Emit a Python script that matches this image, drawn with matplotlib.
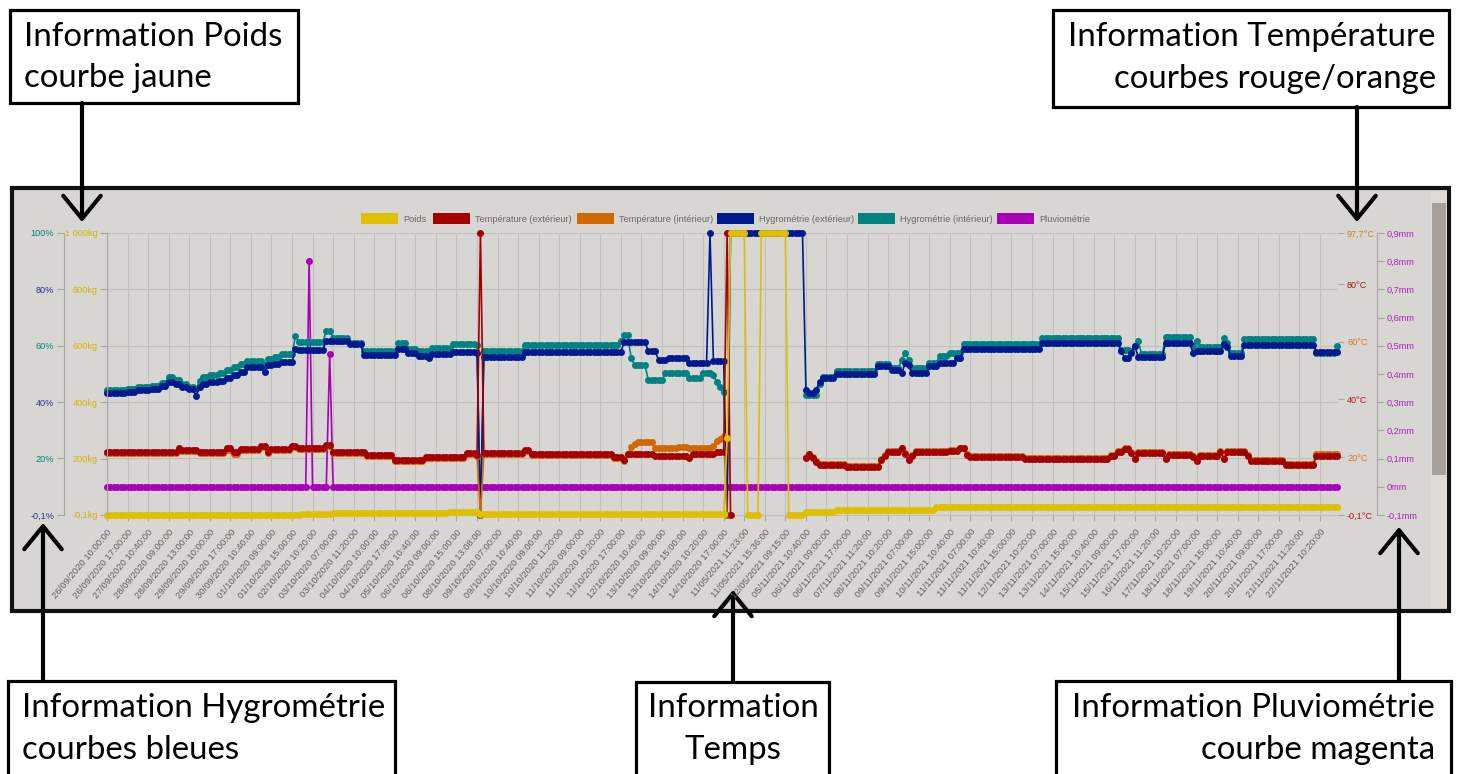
import numpy as np
import matplotlib
matplotlib.use('Agg')
import matplotlib.pyplot as plt
from matplotlib.patches import Rectangle

# ---- data (one value per sample, written as runs of (count, value)) ----
time_labels = [
    "26/09/2020 10:00:00", "26/09/2020 17:00:00", "27/09/2020 10:40:00", "28/09/2020 09:00:00",
    "28/09/2020 13:00:00", "29/09/2020 10:00:00", "29/09/2020 17:00:00", "30/09/2020 10:40:00",
    "01/10/2020 09:00:00", "01/10/2020 15:00:00", "02/10/2020 10:20:00", "03/10/2020 07:00:00",
    "03/10/2020 11:20:00", "04/10/2020 10:00:00", "04/10/2020 17:00:00", "05/10/2020 10:40:00",
    "06/10/2020 09:00:00", "06/10/2020 15:00:00", "08/10/2020 13:08:00", "09/10/2020 07:00:00",
    "09/10/2020 10:40:00", "10/10/2020 09:00:00", "10/10/2020 11:20:00", "11/10/2020 09:00:00",
    "11/10/2020 10:20:00", "11/10/2020 17:00:00", "12/10/2020 10:40:00", "13/10/2020 09:00:00",
    "13/10/2020 15:00:00", "14/10/2020 10:20:00", "14/10/2020 17:00:00", "11/05/2021 11:23:00",
    "11/05/2021 15:36:00", "12/05/2021 09:15:00", "05/11/2021 10:40:00", "06/11/2021 09:00:00",
    "06/11/2021 17:00:00", "07/11/2021 11:20:00", "08/11/2021 10:20:00", "09/11/2021 07:00:00",
    "09/11/2021 15:00:00", "10/11/2021 10:40:00", "11/11/2021 07:00:00", "11/11/2021 10:40:00",
    "11/11/2021 15:00:00", "12/11/2021 10:20:00", "13/11/2021 07:00:00", "13/11/2021 15:00:00",
    "14/11/2021 10:40:00", "15/11/2021 09:00:00", "15/11/2021 17:00:00", "16/11/2021 11:20:00",
    "17/11/2021 10:20:00", "18/11/2021 07:00:00", "18/11/2021 15:00:00", "19/11/2021 10:40:00",
    "20/11/2021 09:00:00", "20/11/2021 17:00:00", "21/11/2021 11:20:00", "22/11/2021 10:20:00",
]
samples_per_label = 6

poids_runs = [(57, 1.0), (9, 4.0), (34, 7.0), (9, 9.5), (72, 2.5), (1, 273), (5, 1000), (4, 0),
              (8, 1000), (5, 0), (9, 11.7), (29, 16.0), (118, 29.0)]

temp_ext_runs = [(21, 21.9), (1, 23.0), (5, 22.6), (8, 21.9), (2, 23.0), (2, 21.6), (6, 22.7),
                 (2, 24.0), (1, 21.8), (6, 22.7), (2, 24.0), (8, 23.2), (2, 24.3), (10, 21.9),
                 (8, 20.7), (9, 19.0), (12, 20.1), (3, 21.4), (1, 20.8), (1, 97.7), (12, 21.3),
                 (2, 22.4), (24, 20.9), (3, 20.0), (1, 19.0), (8, 20.9), (10, 20.5), (1, 19.6),
                 (6, 20.9), (1, 21.0), (3, 21.6), (1, 97.7), (1, -0.1), (21, None),
                 (1, 19.6), (1, 20.9), (1, 19.6), (1, 18.3), (8, 17.2), (10, 16.6), (1, 19.0),
                 (1, 20.5), (4, 21.8), (1, 23.0), (1, 21.0), (1, 19.0), (1, 20.3), (10, 21.7),
                 (3, 22.2), (2, 23.0), (1, 20.7), (16, 20.0), (25, 19.4), (2, 20.5), (2, 21.8),
                 (2, 22.9), (1, 21.5), (1, 19.4), (8, 21.3), (1, 19.4), (7, 20.7), (1, 20.0),
                 (1, 18.8), (6, 20.3), (1, 21.7), (1, 19.3), (6, 21.7), (1, 20.3), (10, 18.8),
                 (9, 17.2), (7, 20.5)]

temp_int_runs = [(21, 21.5), (1, 22.6), (5, 22.2), (8, 21.5), (2, 22.6), (2, 21.2), (6, 22.3),
                 (2, 23.6), (1, 21.4), (6, 22.3), (2, 23.6), (8, 22.8), (2, 23.9), (10, 21.5),
                 (8, 20.3), (9, 18.6), (12, 19.7), (3, 21.0), (1, 20.4), (1, -0.1), (12, 21.0),
                 (2, 22.0), (24, 20.6), (3, 19.7), (1, 18.8), (1, 20.9), (1, 23.6), (1, 24.5),
                 (5, 25.2), (7, 23.0), (3, 23.6), (7, 23.0), (1, 24.0), (1, 25.5), (1, 26.3),
                 (1, 27.3), (1, -0.1), (22, None),
                 (1, 19.9), (1, 21.2), (1, 19.9), (1, 18.6), (8, 17.5), (10, 16.9), (1, 19.3),
                 (1, 20.8), (4, 22.1), (1, 23.3), (1, 21.3), (1, 19.3), (1, 20.6), (10, 22.0),
                 (3, 22.5), (2, 23.3), (1, 21.0), (16, 20.3), (25, 19.7), (2, 20.8), (2, 22.1),
                 (2, 23.3), (1, 21.8), (1, 19.7), (8, 21.7), (1, 19.7), (7, 21.0), (1, 20.3),
                 (1, 19.1), (6, 20.6), (1, 22.0), (1, 19.6), (6, 22.0), (1, 20.6), (10, 19.1),
                 (9, 17.5), (7, 20.9)]

hygro_ext_runs = [(6, 43.1), (3, 43.6), (4, 44.2), (3, 44.8), (2, 45.6), (2, 47.0), (2, 46.3),
                  (2, 45.5), (2, 44.6), (1, 42.0), (1, 45.4), (2, 46.5), (3, 47.0), (2, 47.6),
                  (2, 48.6), (2, 49.6), (2, 50.8), (5, 52.3), (1, 50.8), (2, 53.0), (2, 53.5),
                  (4, 54.3),
                  (1, 58.8), (8, 58.5), (7, 61.8), (4, 60.5), (10, 56.7),
                  (3, 59.0), (3, 57.5), (3, 56.5), (1, 55.8), (6, 57.0), (7, 57.8), (1, 57.5),
                  (1, -0.1), (12, 56.1), (29, 57.9), (7, 61.4), (3, 58.0), (3, 54.9), (6, 55.8),
                  (6, 53.7), (1, 100), (4, 54.5), (1, -0.1), (22, 100),
                  (1, 44.4), (2, 43.3), (1, 44.4), (1, 47.2), (4, 48.6), (12, 50.0), (4, 52.8),
                  (3, 51.5), (1, 50.3), (1, 54.0), (1, 53.0), (5, 50.3), (3, 52.7), (5, 54.0),
                  (2, 55.5), (23, 59.0), (23, 61.0), (1, 58.0), (2, 55.8), (1, 57.5), (1, 59.8),
                  (8, 56.0), (8, 61.0), (1, 57.5), (8, 58.0), (1, 60.6), (1, 59.5), (4, 56.3),
                  (21, 60.2), (7, 57.8)]

hygro_int_runs = [(6, 44.3), (3, 44.8), (4, 45.3), (3, 45.8), (2, 46.8), (2, 48.8), (2, 47.8),
                  (2, 46.5), (2, 45.5), (1, 44.5), (1, 47.5), (2, 48.8), (3, 49.5), (2, 50.3),
                  (2, 51.3), (2, 52.5), (2, 53.5), (5, 54.5), (1, 53.0), (2, 55.3), (2, 56.0),
                  (4, 57.0),
                  (1, 63.3), (8, 61.3), (2, 65.2), (5, 62.8), (4, 61.0),
                  (10, 58.0), (3, 60.8), (3, 59.0), (4, 58.0), (6, 59.2), (7, 60.5), (1, 60.2),
                  (1, -0.1), (12, 58.0), (28, 60.4), (1, 61.5), (2, 63.8), (1, 55.5), (4, 53.2),
                  (5, 47.8), (7, 50.2), (4, 48.5), (3, 50.2), (1, 49.5), (1, 47.0), (1, 45.5),
                  (1, 43.5), (1, -0.1), (22, None),
                  (4, 42.5), (1, 46.5), (4, 49.0), (12, 51.0), (4, 53.6), (3, 52.2), (1, 55.0),
                  (1, 57.4), (1, 55.0), (5, 52.0), (3, 53.8), (3, 56.2), (4, 57.5), (23, 60.5),
                  (23, 62.8), (3, 58.5), (1, 58.0), (1, 60.0), (1, 61.5), (7, 57.0), (8, 63.0),
                  (1, 59.8), (1, 61.5), (7, 59.5), (1, 62.6), (1, 61.0), (4, 57.5), (21, 62.3),
                  (6, 57.5), (1, 59.8)]

pluie_runs = [(59, 0.0), (1, 0.8), (5, 0.0), (1, 0.47), (294, 0.0)]

pct_ticks = [100, 80, 60, 40, 20, -0.1]
pct_labels = ["100%", "80%", "60%", "40%", "20%", "-0,1%"]
kg_ticks = [1000, 800, 600, 400, 200, -0.1]
kg_labels = ["1 000kg", "800kg", "600kg", "400kg", "200kg", "-0,1kg"]
temp_ticks = [97.7, 80, 60, 40, 20, -0.1]
temp_labels = ["97,7°C", "80°C", "60°C", "40°C", "20°C", "-0,1°C"]
mm_ticks = [0.9, 0.8, 0.7, 0.6, 0.5, 0.4, 0.3, 0.2, 0.1, 0, -0.1]
mm_labels = ["0,9mm", "0,8mm", "0,7mm", "0,6mm", "0,5mm", "0,4mm", "0,3mm", "0,2mm",
             "0,1mm", "0mm", "-0,1mm"]

legend_names = ["Poids", "Température (extérieur)", "Température (intérieur)",
                "Hygrométrie (extérieur)", "Hygrométrie (intérieur)", "Pluviométrie"]


def expand(runs):
    out = []
    for n, v in runs:
        out += [np.nan if v is None else v] * n
    return np.array(out, dtype=float)


poids = expand(poids_runs)
temp_ext = expand(temp_ext_runs)
temp_int = expand(temp_int_runs)
hygro_ext = expand(hygro_ext_runs)
hygro_int = expand(hygro_int_runs)
pluie = expand(pluie_runs)
idx = np.arange(len(poids))

# colours
YELLOW = '#dfc000'
RED = '#a50000'
ORANGE = '#d06800'
NAVY = '#001a8e'
TEAL = '#008282'
MAGENTA = '#a800b6'
GRID = '#c2c0bc'
AXC = '#a9a6a2'
TXT = '#666666'
CHART_FONT = 'Liberation Sans'
NOTE_FONT = 'Lato'

W, H = 1460, 774
fig = plt.figure(figsize=(W / 100, H / 100), dpi=100)
fig.patch.set_facecolor('white')

bg = fig.add_axes([0, 0, 1, 1])
bg.set_xlim(0, W)
bg.set_ylim(H, 0)
bg.axis('off')

# screenshot panel
bg.add_patch(Rectangle((12, 188), 1437, 423, facecolor='#d8d6d2', edgecolor='#111111', lw=3, zorder=1))
bg.add_patch(Rectangle((1431, 191), 16, 417, facecolor='#dedbd7', edgecolor='none', zorder=1.1))
bg.add_patch(Rectangle((1432, 203), 14, 272, facecolor='#a7a19b', edgecolor='none', zorder=1.2))

# legend
legend_colors = [YELLOW, RED, ORANGE, NAVY, TEAL, MAGENTA]
legend_x = [361, 433, 577, 717, 858, 997]
for name, c, lx in zip(legend_names, legend_colors, legend_x):
    bg.add_patch(Rectangle((lx, 213), 37, 11, facecolor=c, edgecolor='none', zorder=2))
    bg.text(lx + 42, 219, name, fontsize=6.6, color=TXT, family=CHART_FONT, va='center', ha='left', zorder=2)

# ---- chart axes ----
rect = [107 / W, (H - 515) / H, 1231 / W, 282 / H]
ax = fig.add_axes(rect)
ax.set_facecolor('none')
ax.set_xlim(0, 359.3)
ax.set_ylim(-0.1, 100)
ax_mm = ax.twinx()
ax_hy = ax.twinx()
ax_te = ax.twinx()
ax_kg = ax.twinx()

for a in (ax_mm, ax_hy, ax_te, ax_kg):
    for s in a.spines.values():
        s.set_visible(False)
for s in ('top', 'right'):
    ax.spines[s].set_visible(False)
ax.spines['bottom'].set_color(GRID)
ax.spines['left'].set_color(AXC)
ax.spines['left'].set_position(('outward', 31))

# grid + time axis
ax.set_xticks(np.arange(0, len(idx), samples_per_label))
ax.set_xticklabels(time_labels, rotation=50, ha='right', rotation_mode='anchor',
                   fontsize=6.8, color='#606060', family=CHART_FONT)
ax.tick_params(axis='x', length=4, color=AXC, pad=5)
ax.grid(True, color=GRID, lw=0.8)
ax.set_axisbelow(True)

# percent axis (left, outer)
ax.set_yticks(pct_ticks)
labs = ax.set_yticklabels(pct_labels, fontsize=6.6, family=CHART_FONT)
for i, t in enumerate(labs):
    t.set_color(TEAL if i % 2 == 0 else '#25309a')
ax.tick_params(axis='y', length=5, color=AXC, pad=2)

# kg axis (left, inner)
ax_kg.set_ylim(-0.1, 1000)
ax_kg.yaxis.tick_left()
ax_kg.spines['left'].set_visible(True)
ax_kg.spines['left'].set_color(AXC)
ax_kg.set_yticks(kg_ticks)
ax_kg.set_yticklabels(kg_labels, fontsize=6.6, family=CHART_FONT, color='#d4b400')
ax_kg.tick_params(axis='y', length=5, color=AXC, pad=1.5)

# temperature axis (right, inner)
ax_te.set_ylim(-0.1, 97.7)
ax_te.set_yticks(temp_ticks)
labs = ax_te.set_yticklabels(temp_labels, fontsize=6.6, family=CHART_FONT)
for i, t in enumerate(labs):
    t.set_color('#cc7a22' if i % 2 == 0 else '#b01818')
ax_te.tick_params(axis='y', length=4.5, color=AXC, pad=2)

# rain axis (right, outer)
ax_mm.set_ylim(-0.1, 0.9)
ax_mm.spines['right'].set_visible(True)
ax_mm.spines['right'].set_color(AXC)
ax_mm.spines['right'].set_position(('outward', 28))
ax_mm.set_yticks(mm_ticks)
ax_mm.set_yticklabels(mm_labels, fontsize=6.6, family=CHART_FONT, color='#b01fc4')
ax_mm.tick_params(axis='y', length=5, color=AXC, pad=2)

ax_hy.set_ylim(-0.1, 100)
ax_hy.yaxis.set_visible(False)

style = dict(lw=1.2, marker='o', ms=5.0, mew=0, clip_on=False)
ax_mm.plot(idx, pluie, color=MAGENTA, **style)
ax_hy.plot(idx, hygro_int, color=TEAL, **style)
ax_hy.plot(idx, hygro_ext, color=NAVY, **style)
ax_te.plot(idx, temp_int, color=ORANGE, **style)
ax_te.plot(idx, temp_ext, color=RED, **style)
ax_kg.plot(idx, poids, color=YELLOW, **style)

# ---- annotation boxes ----
notes = [
    ((10, 10, 288, 93), [("Information Poids", 24, 37), ("courbe jaune", 24, 78)], 'left'),
    ((1053, 10, 396, 97), [("Information Température", 1436, 37), ("courbes rouge/orange", 1436, 79)], 'right'),
    ((8, 681, 387, 110), [("Information Hygrométrie", 22, 708), ("courbes bleues", 22, 750)], 'left'),
    ((636, 682, 193, 110), [("Information", 733, 708), ("Temps", 733, 750)], 'center'),
    ((1056, 681, 395, 110), [("Information Pluviométrie", 1435, 708), ("courbe magenta", 1435, 750)], 'right'),
]
for (bx, by, bw, bh), lines, ha in notes:
    bg.add_patch(Rectangle((bx, by), bw, bh, facecolor='white', edgecolor='black', lw=2.3, zorder=5))
    for txt, tx, ty in lines:
        bg.text(tx, ty, txt, fontsize=23.8, family=NOTE_FONT, ha=ha, va='center', color='black', zorder=6)

arrows = [((82, 103), (82, 222)), ((1357, 107), (1357, 222)), ((43, 681), (43, 523)),
          ((733, 682), (733, 590)), ((1399, 681), (1399, 527))]
for start, end in arrows:
    bg.annotate('', xy=end, xytext=start,
                arrowprops=dict(arrowstyle='->,head_length=0.55,head_width=0.45', lw=3,
                                color='black', mutation_scale=30, shrinkA=0, shrinkB=0),
                zorder=7)

fig.savefig('out.png', dpi=100)
